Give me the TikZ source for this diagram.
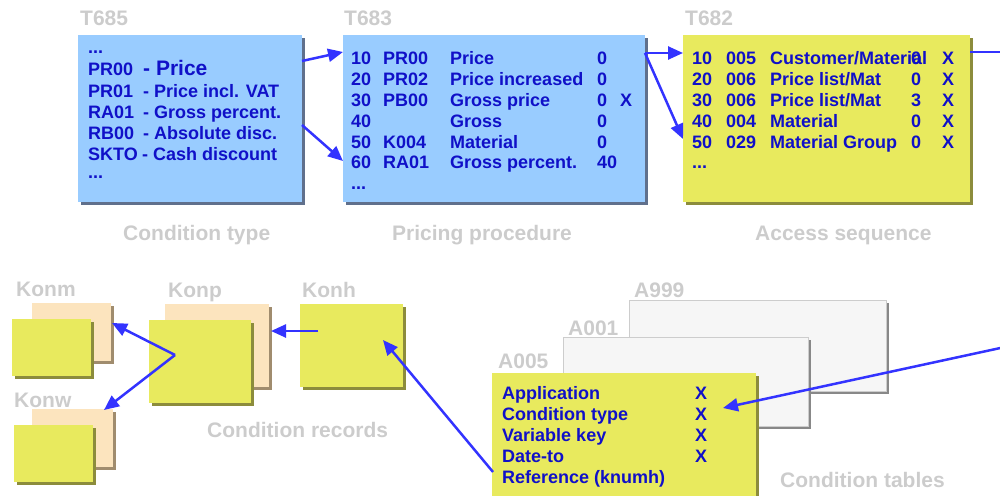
\documentclass[tikz,border=0pt]{standalone}
\usepackage{fontspec}
\setmainfont{Liberation Sans}
\usetikzlibrary{shadows,arrows.meta}
\definecolor{boxblue}{RGB}{153,204,255}
\definecolor{boxyellow}{RGB}{232,234,94}
\definecolor{boxtan}{RGB}{252,228,190}
\definecolor{boxgray}{RGB}{246,246,246}
\definecolor{bordgray}{RGB}{205,205,205}
\definecolor{shblue}{RGB}{96,112,140}
\definecolor{shyellow}{RGB}{140,140,60}
\definecolor{shtan}{RGB}{160,140,110}
\definecolor{shgray}{RGB}{136,136,136}
\definecolor{txtblue}{RGB}{16,16,200}
\definecolor{capgray}{RGB}{204,204,204}
\definecolor{arrblue}{RGB}{51,51,255}
\tikzset{
  panelbox/.style={anchor=north west, inner sep=0pt, outer sep=0pt, draw=none},
  shadowcol/.style={drop shadow={shadow xshift=3pt, shadow yshift=-3pt, fill=#1, opacity=1}},
  bluebox/.style={panelbox, fill=boxblue, shadowcol=shblue},
  yelbox/.style={panelbox, fill=boxyellow, shadowcol=shyellow},
  tanbox/.style={panelbox, fill=boxtan, shadowcol=shtan},
  graybox/.style={panelbox, fill=boxgray, draw=bordgray, line width=0.8pt, shadowcol=shgray},
  rowtext/.style={anchor=base west, inner sep=0pt, text=txtblue, font=\fontsize{18}{18}\selectfont\bfseries},
  bigrowtext/.style={anchor=base west, inner sep=0pt, text=txtblue, font=\fontsize{21}{21}\selectfont\bfseries},
  captext/.style={anchor=base west, inner sep=0pt, text=capgray, font=\fontsize{21}{21}\selectfont\bfseries},
  conn/.style={draw=arrblue, line width=2.5pt, -{Triangle[length=15pt,width=13pt]}},
  plainconn/.style={draw=arrblue, line width=2.5pt},
}
\begin{document}
\begin{tikzpicture}[x=1pt,y=-1pt]
\useasboundingbox (0,0) rectangle (1000,495);
\clip (0,0) rectangle (1000,495);

% ---------- top boxes ----------
\node[bluebox, minimum width=224pt, minimum height=167pt] (t685) at (78,35) {};
\node[bluebox, minimum width=302pt, minimum height=167pt] (t683) at (343,35) {};
\node[yelbox, minimum width=287pt, minimum height=167pt] (t682) at (683,35) {};

\node[captext] (lt685) at (80,26) {T685};
\node[captext] (lt683) at (344,26) {T683};
\node[captext] (lt682) at (685,26) {T682};
\node[captext] (ccond) at (123,240) {Condition type};
\node[captext] (cproc) at (392,240) {Pricing procedure};
\node[captext] (cacc) at (755,240) {Access sequence};

% T685 rows
\node[rowtext] (a0) at (88,54) {...};
\node[rowtext] (a1c) at (88,75) {PR00};   \node[bigrowtext] (a1d) at (143,75) {- Price};
\node[rowtext] (a2c) at (88,97) {PR01};   \node[rowtext] (a2d) at (143,97) {- Price incl. VAT};
\node[rowtext] (a3c) at (88,118) {RA01};  \node[rowtext] (a3d) at (143,118) {- Gross percent.};
\node[rowtext] (a4c) at (88,139) {RB00};  \node[rowtext] (a4d) at (143,139) {- Absolute disc.};
\node[rowtext] (a5c) at (88,160) {SKTO};  \node[rowtext] (a5d) at (142,160) {- Cash discount};
\node[rowtext] (a6) at (88,178) {...};

% T683 rows
\node[rowtext] (b1n) at (351,64) {10}; \node[rowtext] (b1c) at (383,64) {PR00}; \node[rowtext] (b1d) at (450,64) {Price}; \node[rowtext] (b1v) at (597,64) {0};
\node[rowtext] (b2n) at (351,85) {20}; \node[rowtext] (b2c) at (383,85) {PR02}; \node[rowtext] (b2d) at (450,85) {Price increased}; \node[rowtext] (b2v) at (597,85) {0};
\node[rowtext] (b3n) at (351,106) {30}; \node[rowtext] (b3c) at (383,106) {PB00}; \node[rowtext] (b3d) at (450,106) {Gross price}; \node[rowtext] (b3v) at (597,106) {0}; \node[rowtext] (b3x) at (620,106) {X};
\node[rowtext] (b4n) at (351,127) {40}; \node[rowtext] (b4d) at (450,127) {Gross}; \node[rowtext] (b4v) at (597,127) {0};
\node[rowtext] (b5n) at (351,148) {50}; \node[rowtext] (b5c) at (383,148) {K004}; \node[rowtext] (b5d) at (450,148) {Material}; \node[rowtext] (b5v) at (597,148) {0};
\node[rowtext] (b6n) at (351,168) {60}; \node[rowtext] (b6c) at (383,168) {RA01}; \node[rowtext] (b6d) at (450,168) {Gross percent.}; \node[rowtext] (b6v) at (597,168) {40};
\node[rowtext] (b7) at (351,189) {...};

% T682 rows
\node[rowtext] (c1n) at (692,64) {10}; \node[rowtext] (c1c) at (726,64) {005}; \node[rowtext] (c1d) at (770,64) {Customer/Material}; \node[rowtext] (c1v) at (911,64) {0}; \node[rowtext] (c1x) at (942,64) {X};
\node[rowtext] (c2n) at (692,85) {20}; \node[rowtext] (c2c) at (726,85) {006}; \node[rowtext] (c2d) at (770,85) {Price list/Mat}; \node[rowtext] (c2v) at (911,85) {0}; \node[rowtext] (c2x) at (942,85) {X};
\node[rowtext] (c3n) at (692,106) {30}; \node[rowtext] (c3c) at (726,106) {006}; \node[rowtext] (c3d) at (770,106) {Price list/Mat}; \node[rowtext] (c3v) at (911,106) {3}; \node[rowtext] (c3x) at (942,106) {X};
\node[rowtext] (c4n) at (692,127) {40}; \node[rowtext] (c4c) at (726,127) {004}; \node[rowtext] (c4d) at (770,127) {Material}; \node[rowtext] (c4v) at (911,127) {0}; \node[rowtext] (c4x) at (942,127) {X};
\node[rowtext] (c5n) at (692,148) {50}; \node[rowtext] (c5c) at (726,148) {029}; \node[rowtext] (c5d) at (770,148) {Material Group}; \node[rowtext] (c5v) at (911,148) {0}; \node[rowtext] (c5x) at (942,148) {X};
\node[rowtext] (c6) at (692,168) {...};

% ---------- condition records ----------
\node[tanbox, minimum width=79pt, minimum height=58pt] (konmb) at (32,303) {};
\node[yelbox, minimum width=79pt, minimum height=57pt] (konm) at (12,319) {};
\node[tanbox, minimum width=81pt, minimum height=58pt] (konwb) at (32,409) {};
\node[yelbox, minimum width=79pt, minimum height=57pt] (konw) at (14,425) {};
\node[tanbox, minimum width=104pt, minimum height=83pt] (konpb) at (165,304) {};
\node[yelbox, minimum width=102pt, minimum height=83pt] (konp) at (149,320) {};
\node[yelbox, minimum width=103pt, minimum height=83pt] (konh) at (300,304) {};

\node[captext] (lkonm) at (16,296) {Konm};
\node[captext] (lkonp) at (168,297) {Konp};
\node[captext] (lkonh) at (302,297) {Konh};
\node[captext] (lkonw) at (14,407) {Konw};
\node[captext] (crec) at (207,437) {Condition records};

% ---------- condition tables ----------
\node[graybox, minimum width=257pt, minimum height=91pt] (a999) at (629,300) {};
\node[graybox, minimum width=245pt, minimum height=89pt] (a001) at (563,337) {};
\node[yelbox, minimum width=264pt, minimum height=135pt] (a005) at (492,373) {};

\node[captext] (la999) at (634,297) {A999};
\node[captext] (la001) at (568,335) {A001};
\node[captext] (la005) at (498,368) {A005};
\node[captext] (ctab) at (780,487) {Condition tables};

\node[rowtext] (d1) at (502,399) {Application};       \node[rowtext] (d1x) at (695,399) {X};
\node[rowtext] (d2) at (502,420) {Condition type};    \node[rowtext] (d2x) at (695,420) {X};
\node[rowtext] (d3) at (502,441) {Variable key};      \node[rowtext] (d3x) at (695,441) {X};
\node[rowtext] (d4) at (502,462) {Date-to};           \node[rowtext] (d4x) at (695,462) {X};
\node[rowtext] (d5) at (502,483) {Reference (knumh)};

% ---------- connectors ----------
\coordinate (p1s) at (302,61);  \coordinate (p1e) at (343,52);
\coordinate (p2s) at (302,125); \coordinate (p2e) at (343,161);
\coordinate (q0)  at (645,53);  \coordinate (q1e) at (683,53);
\coordinate (q2e) at (683,139);
\coordinate (r1s) at (970,52);  \coordinate (r1e) at (1005,52);
\coordinate (r2s) at (1005,347); \coordinate (r2e) at (723,408);
\coordinate (h1s) at (318,331); \coordinate (h1e) at (271,331);
\coordinate (k0)  at (175,355); \coordinate (k1e) at (112,323); \coordinate (k2e) at (104,410);
\coordinate (s1s) at (493,472); \coordinate (s1e) at (383,340);

\draw[conn] (p1s) -- (p1e);
\draw[conn] (p2s) -- (p2e);
\draw[conn] (q0) -- (q1e);
\draw[conn] (q0) -- (q2e);
\draw[plainconn] (r1s) -- (r1e);
\draw[conn] (r2s) -- (r2e);
\draw[conn] (h1s) -- (h1e);
\draw[conn] (k0) -- (k1e);
\draw[conn] (k0) -- (k2e);
\draw[conn] (s1s) -- (s1e);
\end{tikzpicture}
\end{document}
